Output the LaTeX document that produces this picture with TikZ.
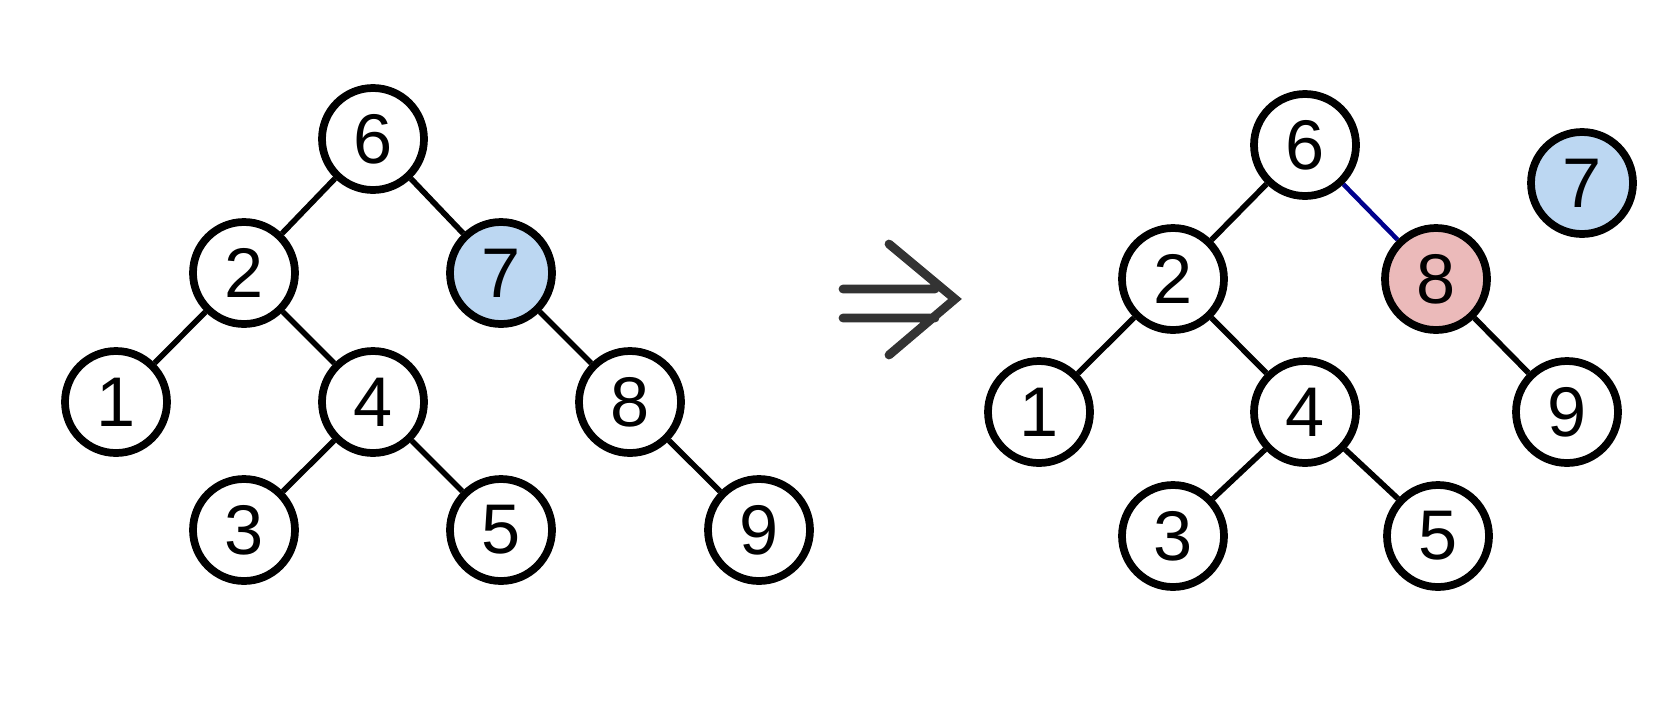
\documentclass[tikz,border=0pt]{standalone}
\usepackage{fontspec}
\setmainfont{Liberation Sans}
\usepackage{xcolor}
\usepackage{tikz}
\usetikzlibrary{positioning}

\definecolor{keyblue}{HTML}{BCD7F2}
\definecolor{keyred}{HTML}{EBBABA}
\definecolor{arrowgray}{HTML}{333333}

\begin{document}
\begin{tikzpicture}[
    key/.style={circle, draw, line width=4.4pt, minimum size=2.04cm, inner sep=0pt, fill=white, font=\fontsize{40}{44}\selectfont},
    edge/.style={line width=3.2pt},
    newedge/.style={line width=2.6pt, blue!55!black}
]
    \useasboundingbox (0,0) rectangle (33.6,-14.02);
    % tree before
    \node[key] (a6) at (7.46, -2.78) {6};
    \node[key] (a2) at (4.88, -5.46) {2};
    \node[key, fill=keyblue] (a7) at (10.02, -5.46) {7};
    \node[key] (a1) at (2.32, -8.04) {1};
    \node[key] (a4) at (7.46, -8.04) {4};
    \node[key] (a8) at (12.6, -8.04) {8};
    \node[key] (a3) at (4.88, -10.6) {3};
    \node[key] (a5) at (10.02, -10.6) {5};
    \node[key] (a9) at (15.18, -10.6) {9};
    \draw[edge] (a6) -- (a2);
    \draw[edge] (a6) -- (a7);
    \draw[edge] (a2) -- (a1);
    \draw[edge] (a2) -- (a4);
    \draw[edge] (a4) -- (a3);
    \draw[edge] (a4) -- (a5);
    \draw[edge] (a7) -- (a8);
    \draw[edge] (a8) -- (a9);
    % arrow
    \draw[arrowgray, line width=5pt, line cap=round, line join=miter]
        (16.86, -5.78) -- (18.7, -5.78)
        (16.86, -6.36) -- (18.7, -6.36)
        (17.78, -4.88) -- (19.1, -5.98) -- (17.78, -7.1);
    % tree after
    \node[key] (b6) at (26.1, -2.9) {6};
    \node[key] (b2) at (23.46, -5.58) {2};
    \node[key, fill=keyred] (b8) at (28.72, -5.58) {8};
    \node[key] (b1) at (20.78, -8.24) {1};
    \node[key] (b4) at (26.1, -8.24) {4};
    \node[key] (b9) at (31.34, -8.24) {9};
    \node[key] (b3) at (23.46, -10.72) {3};
    \node[key] (b5) at (28.76, -10.72) {5};
    \node[key, fill=keyblue] (b7) at (31.64, -3.66) {7};
    \draw[edge] (b6) -- (b2);
    \draw[newedge] (b6) -- (b8);
    \draw[edge] (b2) -- (b1);
    \draw[edge] (b2) -- (b4);
    \draw[edge] (b4) -- (b3);
    \draw[edge] (b4) -- (b5);
    \draw[edge] (b8) -- (b9);
\end{tikzpicture}
\end{document}
